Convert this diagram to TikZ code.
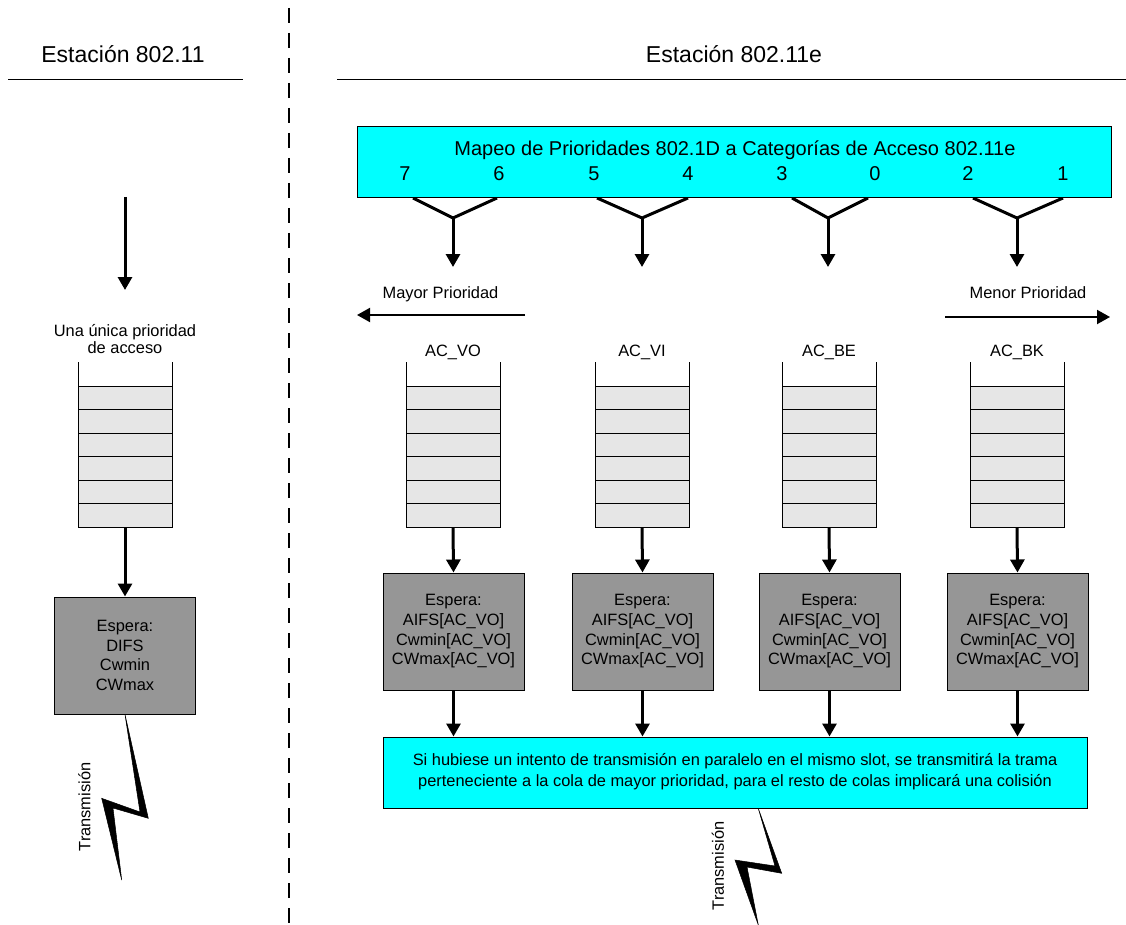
\documentclass[tikz,border=0pt]{standalone}
\usepackage{fontspec}
\setmainfont{Liberation Sans}
\usetikzlibrary{arrows.meta}
\definecolor{cyanbox}{RGB}{0,255,255}
\definecolor{waitgray}{RGB}{150,150,150}
\definecolor{cellgray}{RGB}{230,230,230}

\begin{document}
\begin{tikzpicture}[x=1pt,y=-1pt,
  txt/.style={font=\fontsize{16.4}{17}\selectfont, inner sep=0pt, align=center},
  maptxt/.style={font=\fontsize{20}{24}\selectfont, inner sep=0pt},
  title/.style={font=\fontsize{23}{27}\selectfont, inner sep=0pt},
  flow/.style={line width=3pt, -{Triangle[length=13pt,width=14pt]}},
  thinflow/.style={line width=2pt, -{Triangle[length=13pt,width=14pt]}},
  fork/.style={line width=3pt, line join=miter},
  waitbox/.style={draw, line width=1pt, fill=waitgray, minimum width=141pt,
    minimum height=117pt, inner sep=0pt, align=center,
    font=\fontsize{16.4}{19.7}\selectfont},
  cyanpanel/.style={draw, line width=1pt, fill=cyanbox, inner sep=0pt},
  cell/.style={draw, line width=1pt, fill=cellgray},
  wall/.style={line width=1pt},
  bolt/.style={fill=black, draw=black, line width=0.5pt, line join=miter}
]
\useasboundingbox (0,0) rectangle (1126,925);

% headings and divider
\node[title, anchor=base] (t1) at (123,63) {Estación 802.11};
\node[title, anchor=base] (t2) at (734,63) {Estación 802.11e};
\draw[line width=1pt] (8,80) -- (243,80);
\draw[line width=1pt] (337,80) -- (1126,80);
\draw[line width=1.8pt, dash pattern=on 15pt off 10pt] (289,8) -- (289,925);

% ---------- plain 802.11 station ----------
\coordinate (src) at (125,197);
\coordinate (srcend) at (125,290);
\draw[flow] (src) -- (srcend);
\node[txt, anchor=base] (ul1) at (125,336.7) {Una única prioridad};
\node[txt, anchor=base] (ul2) at (125,353.3) {de acceso};
\node[inner sep=0pt, minimum width=94pt, minimum height=141pt] (q0) at (125,456.5) {};
\foreach \i in {0,...,5}
  \draw[cell] (78,{386+\i*23.5}) rectangle ++(94,23.5);
\draw[wall] (78,362) -- (78,527);
\draw[wall] (172,362) -- (172,527);
\node[waitbox] (e0) at (125,655.5) {Espera:\\DIFS\\Cwmin\\CWmax};
\draw[flow] (q0.south) -- (e0.north);
\draw[bolt] (e0.south) -- (148.3,818.3) -- (113,808) -- (121.7,880)
  -- (101.7,798.3) -- (140,812) -- cycle;
\node[txt, rotate=90] (tx0) at (84.5,807) {Transmisión};

% ---------- 802.11e station ----------
\foreach \a/\m/\b/\k in {413/453/497/1, 597/642/688/2, 792/828/868/3, 973/1017/1063/4}{
  \coordinate (fl\k) at (\a,198);
  \coordinate (fm\k) at (\m,218);
  \coordinate (fr\k) at (\b,198);
  \coordinate (fe\k) at (\m,267);
  \draw[fork] (fl\k) -- (fm\k) -- (fr\k);
  \draw[flow] (fm\k) -- (fe\k);
}
\node[cyanpanel, minimum width=754pt, minimum height=71pt] (map) at (734,162.5) {};
\node[maptxt, anchor=base] (maptitle) at (735,156)
  {Mapeo de Prioridades 802.1D a Categorías de Acceso 802.11e};
\foreach \x/\n in {405/7, 499/6, 594/5, 688/4, 782/3, 875/0, 968/2, 1063/1}
  \node[maptxt, anchor=base] (n\n) at (\x,181) {\n};

% priority direction
\node[txt, anchor=base] (hi) at (440.5,298.3) {Mayor Prioridad};
\coordinate (his) at (525,315);
\coordinate (hie) at (357,315);
\draw[thinflow] (his) -- (hie);
\node[txt, anchor=base] (lo) at (1028,298.3) {Menor Prioridad};
\coordinate (los) at (945,317);
\coordinate (loe) at (1110,317);
\draw[thinflow] (los) -- (loe);

% summary panel
\node[cyanpanel, minimum width=704pt, minimum height=71pt] (sum) at (735,772.5) {};
\node[txt, font=\fontsize{16.4}{21}\selectfont] (sumtxt) at (735,772)
  {Si hubiese un intento de transmisión en paralelo en el mismo slot, se transmitirá la trama\\
   perteneciente a la cola de mayor prioridad, para el resto de colas implicará una colisión};

% access-category queues and their wait boxes
\foreach \cx/\k/\lab in {453/vo/AC\_VO, 642/vi/AC\_VI, 829/be/AC\_BE, 1017/bk/AC\_BK}{
  \node[txt, anchor=base] (l\k) at (\cx,356.7) {\lab};
  \node[inner sep=0pt, minimum width=94pt, minimum height=141pt] (q\k) at (\cx,456.5) {};
  \foreach \i in {0,...,5}
    \draw[cell] ({\cx-47},{386+\i*23.5}) rectangle ++(94,23.5);
  \draw[wall] ({\cx-47},362) -- ({\cx-47},527);
  \draw[wall] ({\cx+47},362) -- ({\cx+47},527);
  \node[waitbox] (e\k) at ({\cx+0.5},631.5)
    {Espera:\\AIFS[AC\_VO]\\Cwmin[AC\_VO]\\CWmax[AC\_VO]};
  \draw[flow] (q\k.south) -- (e\k.north);
  \draw[flow] (e\k.south) -- (e\k.south |- sum.north);
}

\draw[bolt] (sum.south -| 758.3,0) -- (781.7,873.3) -- (747,867) -- (758.3,925)
  -- (735,860) -- (775,866) -- cycle;
\node[txt, rotate=90] (tx1) at (718,866) {Transmisión};
\end{tikzpicture}
\end{document}
